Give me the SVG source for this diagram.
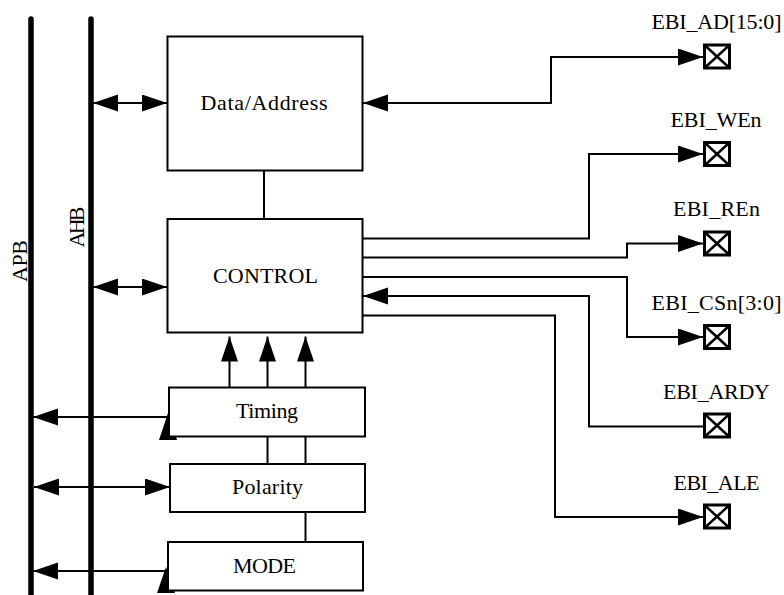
<svg xmlns="http://www.w3.org/2000/svg" width="784" height="595" viewBox="0 0 784 595">
<style>
text{font-family:"Liberation Serif","Times New Roman",serif;font-size:22px;fill:#000}
.box{fill:#fff;stroke:#000;stroke-width:2}
.bus{stroke:#000;stroke-width:5.5;stroke-linecap:round;fill:none}
.wire{fill:none;stroke:#000;stroke-width:2}
.pad{fill:#fff;stroke:#000;stroke-width:3}
.padx{stroke:#000;stroke-width:2.5}
.tri{fill:#000}
</style>
<defs>
<marker id="ah" markerUnits="userSpaceOnUse" markerWidth="26" markerHeight="18" refX="25" refY="8.5" orient="auto-start-reverse">
<path d="M0,0 L25,8.5 L0,17 z" fill="#000"/>
</marker>
</defs>
<g id="buses">
<line class="bus" x1="31" y1="19" x2="31" y2="600"/>
<line class="bus" x1="91" y1="19" x2="91" y2="600"/>
<text transform="translate(26.5,261) rotate(-90)" text-anchor="middle" textLength="42">APB</text>
<text transform="translate(84,227) rotate(-90)" text-anchor="middle" textLength="41">AHB</text>
</g>
<g id="connectors">
<path class="wire" d="M93,103 H167" marker-start="url(#ah)" marker-end="url(#ah)"/>
<path class="wire" d="M93,287 H167" marker-start="url(#ah)" marker-end="url(#ah)"/>
<path class="wire" d="M169,417 H33" marker-end="url(#ah)"/>
<polygon class="tri" points="168,413 159,440 177,440"/>
<path class="wire" d="M34,487 H170" marker-start="url(#ah)" marker-end="url(#ah)"/>
<path class="wire" d="M168,571 H33" marker-end="url(#ah)"/>
<polygon class="tri" points="166,567 157,593 175,593"/>
<path class="wire" d="M229.5,388 V336.5" marker-end="url(#ah)"/>
<path class="wire" d="M267.5,388 V336.5" marker-end="url(#ah)"/>
<path class="wire" d="M305.5,388 V336.5" marker-end="url(#ah)"/>
<path class="wire" d="M267.5,437 V464"/>
<path class="wire" d="M305.5,437 V464"/>
<path class="wire" d="M305.5,512 V542"/>
<path class="wire" d="M264,170.5 V219"/>
<path class="wire" d="M703,57 H551 V103 H363" marker-start="url(#ah)" marker-end="url(#ah)"/>
<path class="wire" d="M362.5,238.5 H589 V154 H703" marker-end="url(#ah)"/>
<path class="wire" d="M362.5,257.5 H627 V243.5 H703" marker-end="url(#ah)"/>
<path class="wire" d="M362.5,277 H627 V337 H703" marker-end="url(#ah)"/>
<path class="wire" d="M704,426.5 H589 V296 H363" marker-end="url(#ah)"/>
<path class="wire" d="M362.5,315.5 H555 V517 H703" marker-end="url(#ah)"/>
</g>
<g id="data_address">
<rect class="box" x="167.5" y="36.5" width="195" height="134"/>
<text x="264" y="110" text-anchor="middle" textLength="127">Data/Address</text>
</g>
<g id="control">
<rect class="box" x="167.5" y="219" width="195" height="113.5"/>
<text x="265.5" y="282.5" text-anchor="middle" textLength="105">CONTROL</text>
</g>
<g id="timing">
<rect class="box" x="169" y="387.5" width="196" height="49"/>
<text x="267" y="418" text-anchor="middle" textLength="62">Timing</text>
</g>
<g id="polarity">
<rect class="box" x="170" y="464" width="195" height="48"/>
<text x="267.5" y="494" text-anchor="middle" textLength="71">Polarity</text>
</g>
<g id="mode">
<rect class="box" x="168" y="542" width="195" height="48.5"/>
<text x="264.5" y="573" text-anchor="middle" textLength="63">MODE</text>
</g>
<g id="pad_ad">
<rect class="pad" x="704.5" y="45" width="25" height="23"/>
<path class="padx" d="M704.5,45 L729.5,68 M729.5,45 L704.5,68"/>
<text x="716.5" y="29" text-anchor="middle" textLength="130">EBI_AD[15:0]</text>
</g>
<g id="pad_wen">
<rect class="pad" x="704.5" y="142.5" width="25" height="23"/>
<path class="padx" d="M704.5,142.5 L729.5,165.5 M729.5,142.5 L704.5,165.5"/>
<text x="716" y="126.5" text-anchor="middle" textLength="91">EBI_WEn</text>
</g>
<g id="pad_ren">
<rect class="pad" x="704.5" y="232" width="25" height="23"/>
<path class="padx" d="M704.5,232 L729.5,255 M729.5,232 L704.5,255"/>
<text x="716.5" y="216" text-anchor="middle" textLength="87">EBI_REn</text>
</g>
<g id="pad_csn">
<rect class="pad" x="704.5" y="325.5" width="25" height="23"/>
<path class="padx" d="M704.5,325.5 L729.5,348.5 M729.5,325.5 L704.5,348.5"/>
<text x="716.5" y="310" text-anchor="middle" textLength="130">EBI_CSn[3:0]</text>
</g>
<g id="pad_ardy">
<rect class="pad" x="704.5" y="414" width="25" height="23"/>
<path class="padx" d="M704.5,414 L729.5,437 M729.5,414 L704.5,437"/>
<text x="716.5" y="398.5" text-anchor="middle" textLength="107">EBI_ARDY</text>
</g>
<g id="pad_ale">
<rect class="pad" x="704.5" y="505" width="25" height="23"/>
<path class="padx" d="M704.5,505 L729.5,528 M729.5,505 L704.5,528"/>
<text x="716.5" y="489.5" text-anchor="middle" textLength="86">EBI_ALE</text>
</g>
</svg>
